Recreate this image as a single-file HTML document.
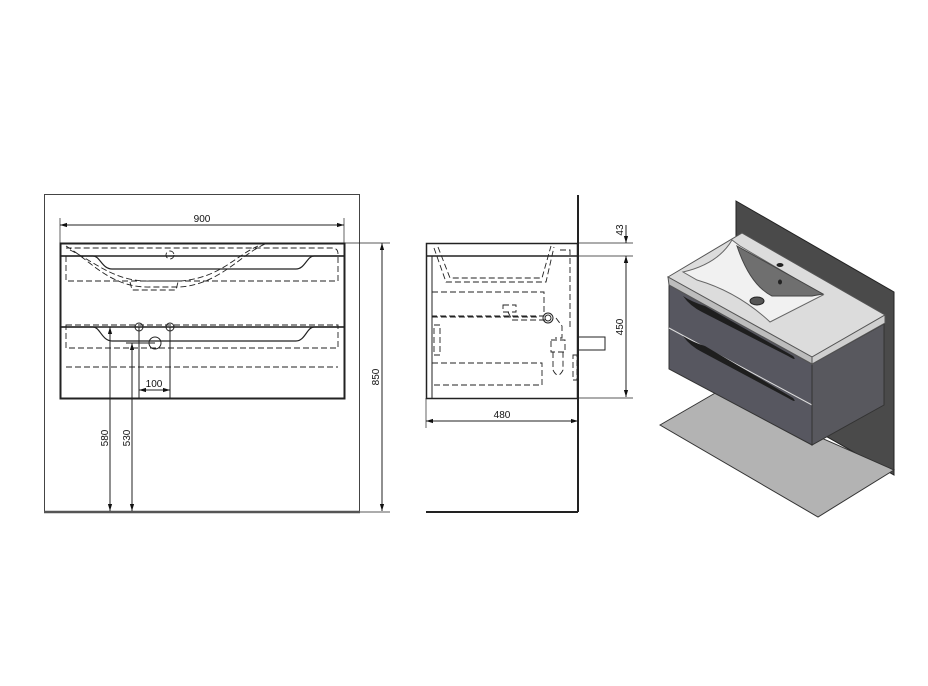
<!DOCTYPE html>
<html><head><meta charset="utf-8"><style>
html,body{margin:0;padding:0;background:#fff;}
svg{display:block;}
text{font-family:"Liberation Sans",sans-serif;font-size:10px;fill:#111;}
</style></head><body>
<svg width="928" height="686" viewBox="0 0 928 686" xmlns="http://www.w3.org/2000/svg">
<defs>
<marker id="a" viewBox="0 0 10 10" refX="10" refY="5" markerWidth="7" markerHeight="7" orient="auto-start-reverse"><path d="M0,2 L10,5 L0,8 z" fill="#111"/></marker>
</defs>
<g fill="none" stroke="#222" stroke-width="1">
<!-- FRONT VIEW -->
<rect x="44.5" y="194.5" width="315" height="318" stroke="#444"/>
<line x1="44" y1="512" x2="360" y2="512" stroke-width="2.5" stroke="#555"/>
<rect x="60.5" y="243.5" width="284" height="155" stroke-width="2"/>
<line x1="60" y1="256" x2="344" y2="256" stroke-width="1.5"/>
<line x1="60" y1="327" x2="344" y2="327" stroke-width="1.5"/>
<path d="M60,256 L93,256 C100,256 102,269 112,269 L296,269 C305,269 307,256 314,256 L344,256" stroke-width="1.2"/>
<path d="M60,327 L93,327 C100,327 102,341 112,341 L296,341 C305,341 307,327 314,327 L344,327" stroke-width="1.2"/>
<g stroke-dasharray="6,3" stroke-width="0.9">
<path d="M66,256 L66,281 L338,281 L338,254 Q338,248 332,248 L66,248"/>
<path d="M66,246 C90,260 110,288 150,287 L180,287 C220,284 240,255 265,244"/>
<path d="M70,250 C95,262 115,282 150,281 L180,281 C220,278 235,256 258,246"/>
<path d="M130,282 L132,290 L176,290 L178,282"/>
<circle cx="170" cy="255" r="4"/>
<path d="M66,325 L338,325 L338,348 L66,348 Z"/>
<line x1="66" y1="367" x2="338" y2="367"/>
</g>
<circle cx="139" cy="327" r="4"/><circle cx="170" cy="327" r="4"/><circle cx="155" cy="343" r="6"/>
<line x1="126" y1="343" x2="155" y2="343"/>
<line x1="98" y1="327" x2="130" y2="327"/>
<line x1="139" y1="327" x2="139" y2="398"/><line x1="170" y1="327" x2="170" y2="398"/>
<line x1="139" y1="390" x2="170" y2="390" marker-start="url(#a)" marker-end="url(#a)"/>
<line x1="110" y1="327" x2="110" y2="511" marker-start="url(#a)" marker-end="url(#a)"/>
<line x1="132" y1="343" x2="132" y2="511" marker-start="url(#a)" marker-end="url(#a)"/>
<line x1="60" y1="218" x2="60" y2="243" stroke-width="0.7"/><line x1="344" y1="218" x2="344" y2="243" stroke-width="0.7"/>
<line x1="60" y1="225" x2="344" y2="225" marker-start="url(#a)" marker-end="url(#a)"/>
<line x1="344" y1="243" x2="390" y2="243" stroke-width="0.7"/><line x1="360" y1="512" x2="390" y2="512" stroke-width="0.7"/>
<line x1="382" y1="243" x2="382" y2="511" marker-start="url(#a)" marker-end="url(#a)"/>

<!-- SIDE VIEW -->
<line x1="578" y1="195" x2="578" y2="512" stroke-width="2"/>
<line x1="426" y1="512" x2="578" y2="512" stroke-width="2"/>
<rect x="426.5" y="243.5" width="151" height="155" stroke-width="1.5"/>
<line x1="426" y1="256" x2="578" y2="256" stroke-width="1.5"/>
<line x1="432" y1="256" x2="432" y2="398"/>
<g stroke-dasharray="6,3" stroke-width="0.9">
<path d="M434,248 L446,282 L546,282 L554,247"/>
<path d="M438,247 L450,278 L542,278 L551,246"/>
<path d="M560,250 L570,250 L570,330"/>
<rect x="432" y="292" width="112" height="24"/>
<line x1="432" y1="317" x2="540" y2="317"/>
<rect x="432" y="363" width="110" height="22"/>
<rect x="434" y="325" width="6" height="30"/>
<path d="M503,305 L516,305 L516,312 L503,312 Z M508,312 L512,320 L545,320"/>
<path d="M556,318 L562,326 L562,338 L555,338"/>
<rect x="551" y="340" width="14" height="12"/>
<path d="M553,352 L553,370 Q558,380 563,370 L563,352"/>
<rect x="573" y="355" width="4" height="25"/>
</g>
<circle cx="548" cy="318" r="5"/><circle cx="548" cy="318" r="3"/>
<rect x="578" y="337" width="27" height="13" stroke-width="1"/>
<line x1="578" y1="243" x2="633" y2="243" stroke-width="0.7"/>
<line x1="578" y1="256" x2="633" y2="256" stroke-width="0.7"/>
<line x1="578" y1="398" x2="633" y2="398" stroke-width="0.7"/>
<line x1="626" y1="225" x2="626" y2="243" marker-end="url(#a)"/>
<line x1="626" y1="272" x2="626" y2="256" marker-end="url(#a)"/>
<line x1="626" y1="256" x2="626" y2="397" marker-start="url(#a)" marker-end="url(#a)"/>
<line x1="426" y1="398" x2="426" y2="428" stroke-width="0.7"/>
<line x1="426" y1="421" x2="578" y2="421" marker-start="url(#a)" marker-end="url(#a)"/>
</g>
<text x="202" y="222" text-anchor="middle">900</text>
<text x="154" y="387" text-anchor="middle">100</text>
<text transform="translate(108,438) rotate(-90)" text-anchor="middle">580</text>
<text transform="translate(130,438) rotate(-90)" text-anchor="middle">530</text>
<text transform="translate(379,377) rotate(-90)" text-anchor="middle">850</text>
<text transform="translate(623,230) rotate(-90)" text-anchor="middle">43</text>
<text transform="translate(623,327) rotate(-90)" text-anchor="middle">450</text>
<text x="502" y="418" text-anchor="middle">480</text>

<!-- ISO VIEW -->
<polygon points="736,201 894,292 894,475 736,385" fill="#4a4a4a" stroke="#222"/>
<polygon points="660,425 717,392 894,470 818,517" fill="#b3b3b3" stroke="#333"/>
<polygon points="669,284 812,364 812,445 669,369" fill="#575760" stroke="#333"/>
<line x1="669" y1="328" x2="812" y2="405" stroke="#ddd" stroke-width="1"/>
<polygon points="812,364 884,324 884,405 812,445" fill="#58585e" stroke="#333"/>
<path d="M683,296 Q690,306 702,312 L788,356 Q798,362 793,356 L705,306 Q692,302 683,296Z" fill="#1e1e1e"/>
<path d="M683,336 Q690,346 702,352 L788,398 Q798,404 793,398 L705,346 Q692,342 683,336Z" fill="#1e1e1e"/>
<polygon points="668,277 742,233 885,315 812,357" fill="#dcdcdc" stroke="#555"/>
<polygon points="668,277 812,357 812,364 669,285" fill="#bdbdbd" stroke="#555"/>
<polygon points="812,357 885,315 885,323 812,364" fill="#cfcfcf" stroke="#555"/>
<path d="M732,240 Q718,264 683,272 L697,280 Q738,292 770,322 L823,295 L740,246 Z" fill="#f1f1f1" stroke="#666"/>
<path d="M737,246 L823,294 L812,296 L772,296 Q750,285 737,246Z" fill="#6f6f6f" stroke="#444"/>
<ellipse cx="757" cy="301" rx="7" ry="4" fill="#555" stroke="#222"/>
<ellipse cx="780" cy="265" rx="3.5" ry="2" fill="#222"/>
<ellipse cx="780" cy="282" rx="2" ry="2.5" fill="#222"/>
</svg>
</body></html>
